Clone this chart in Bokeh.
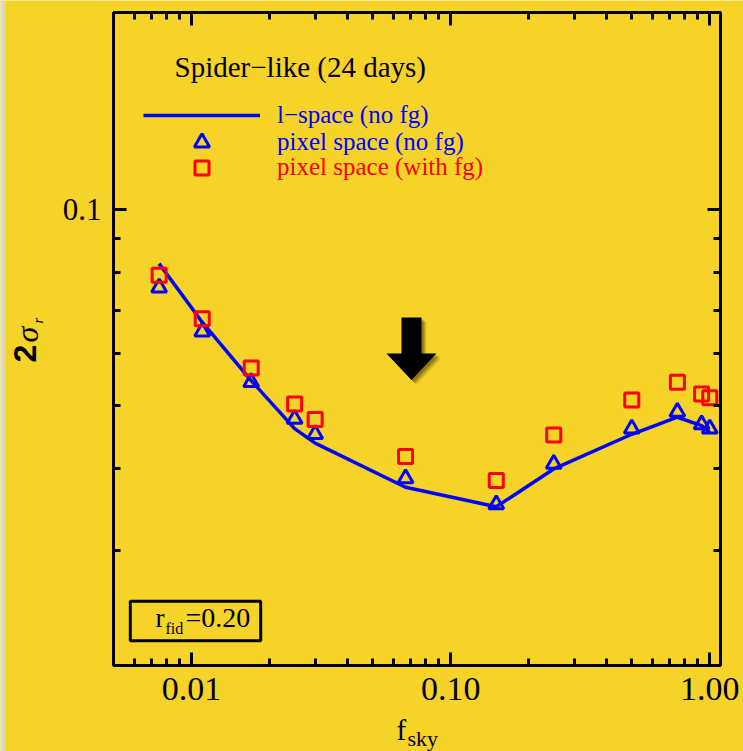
import math
from bokeh.plotting import figure
from bokeh.models import (Range1d, LogAxis, FixedTicker, CustomJSTickFormatter,
                          Label, BoxAnnotation, PolyAnnotation, Legend, LegendItem)
from bokeh.embed import file_html
from bokeh.resources import INLINE

# ---------------- data ----------------
fsky = [0.0075, 0.011, 0.017, 0.025, 0.030, 0.067, 0.15, 0.25, 0.50, 0.75, 0.93, 1.00]
sigma_lspace_nofg = [0.0825, 0.0671, 0.0546, 0.0461, 0.0438, 0.0375, 0.0350, 0.0400,
                     0.0452, 0.0480, 0.0466, 0.0455]
sigma_pixel_nofg = [0.0758, 0.0649, 0.0543, 0.0477, 0.0452, 0.0387, 0.0353, 0.0407,
                    0.0461, 0.0489, 0.0468, 0.0461]
sigma_pixel_fg = [0.0792, 0.0679, 0.0571, 0.0503, 0.0476, 0.0418, 0.0384, 0.0451,
                  0.0510, 0.0543, 0.0521, 0.0514]

x_major_ticks = [0.01, 0.1, 1.0]
x_minor_ticks = [0.006, 0.007, 0.008, 0.009,
                 0.02, 0.03, 0.04, 0.05, 0.06, 0.07, 0.08, 0.09,
                 0.2, 0.3, 0.4, 0.5, 0.6, 0.7, 0.8, 0.9]
y_major_ticks = [0.1]
y_minor_ticks = [0.03, 0.04, 0.05, 0.06, 0.07, 0.08, 0.09]

series_names = ["l\u2212space (no fg)", "pixel space (no fg)", "pixel space (with fg)"]
title_text = "Spider\u2212like (24 days)"

# ---------------- layout ----------------
W, H = 743, 751
FL, FR, FT, FB = 113, 720, 12, 665          # pixel box of the plot area
X0, X1 = 0.005, 1.1                          # axis ranges of the plot box
Y0, Y1 = 0.02, 0.2
BG = "#F5D328"
SERIF = "Liberation Serif"
BASE_K = 0.34                                # baseline correction of Label text


def dx(px):
    return 10 ** (math.log10(X0) + (px - FL) / (FR - FL) * math.log10(X1 / X0))


def dy(py):
    return 10 ** (math.log10(Y0) + (FB - py) / (FB - FT) * math.log10(Y1 / Y0))


# the frame covers the whole canvas; the axes sit at fixed locations on the box
p = figure(width=W, height=H, x_axis_type="log", y_axis_type="log",
           x_axis_location=None, y_axis_location=None,
           x_range=Range1d(dx(0), dx(W)), y_range=Range1d(dy(H), dy(0)),
           output_backend="svg", toolbar_location=None,
           min_border=0, min_border_left=0, min_border_right=0,
           min_border_top=0, min_border_bottom=0,
           background_fill_color=BG, border_fill_color=BG)
p.outline_line_color = None
p.grid.visible = False
p.xgrid.visible = False
p.ygrid.visible = False

xt = FixedTicker(ticks=x_major_ticks, minor_ticks=x_minor_ticks)
yt = FixedTicker(ticks=y_major_ticks, minor_ticks=y_minor_ticks)


def make_axis(ticker, fmt_code, loc, size, standoff):
    ax = LogAxis(ticker=ticker, fixed_location=loc,
                 formatter=CustomJSTickFormatter(code=fmt_code))
    ax.axis_line_color = None
    ax.major_tick_in = 13
    ax.major_tick_out = 0
    ax.minor_tick_in = 7
    ax.minor_tick_out = 0
    ax.major_tick_line_width = 3
    ax.minor_tick_line_width = 3
    ax.major_tick_line_color = "black"
    ax.minor_tick_line_color = "black"
    ax.major_label_text_font = SERIF
    ax.major_label_text_font_size = size
    ax.major_label_text_color = "black"
    ax.major_label_standoff = standoff
    return ax


p.add_layout(make_axis(xt, "return tick.toFixed(2);", Y0, "34px", 12), "below")
p.add_layout(make_axis(xt, "return '';", Y1, "1px", 0), "above")
yax = make_axis(yt, "return tick.toFixed(1);", X0, "31px", 12)
yax.major_label_orientation = "horizontal"
p.add_layout(yax, "left")
p.add_layout(make_axis(yt, "return '';", X1, "1px", 0), "right")

# plot box outline
p.add_layout(BoxAnnotation(left=X0, right=X1, bottom=Y0, top=Y1,
                           fill_color=None, fill_alpha=0, line_color="black",
                           line_alpha=1.0, line_width=3, level="guide"))

# light strip at the left edge of the slide
p.add_layout(BoxAnnotation(left=dx(0), right=dx(3), bottom=dy(H), top=dy(0),
                           fill_color="#dcdcd8", fill_alpha=1.0, line_color=None))
p.add_layout(BoxAnnotation(left=dx(3), right=dx(5), bottom=dy(H), top=dy(0),
                           fill_color="#e9dc8a", fill_alpha=1.0, line_color=None))

# ---------------- data marks ----------------
r_line = p.line(fsky, sigma_lspace_nofg, line_color="blue", line_width=3.5)
r_tri = p.scatter(fsky, sigma_pixel_nofg, marker="triangle", size=15,
                  fill_color=None, line_color="blue", line_width=3)
r_sq = p.scatter(fsky, sigma_pixel_fg, marker="square", size=14,
                 fill_color=None, line_color="red", line_width=3)


# ---------------- legend ----------------
def add_legend(renderer, label, color, center_py, gh):
    lg = Legend(items=[LegendItem(label=label, renderers=[renderer])],
                location=(143, (H - center_py) - gh / 2),
                glyph_width=117, glyph_height=gh, label_height=gh,
                label_standoff=17, padding=0, margin=0, spacing=0,
                background_fill_alpha=0, border_line_color=None,
                label_text_font=SERIF, label_text_font_size="25px",
                label_text_color=color)
    p.add_layout(lg)


add_legend(r_line, series_names[0], "blue", 114.5, 32)
add_legend(r_tri, series_names[1], "blue", 141.5, 38)
add_legend(r_sq, series_names[2], "red", 167.0, 35)


def add_label(text, px, py, size, color="black", font=SERIF, style="normal",
              align="left", rotated=False):
    shift = BASE_K * size
    if rotated:
        px, angle = px - shift, math.pi / 2
    else:
        py, angle = py - shift, 0.0
    p.add_layout(Label(x=dx(px), y=dy(py), text=text, text_font=font,
                       text_font_size=f"{size}px", text_color=color,
                       text_font_style=style, text_align=align,
                       text_baseline="alphabetic", angle=angle))


add_label(title_text, 174, 76, 29)

# r_fid box
p.add_layout(BoxAnnotation(left=dx(129.8), right=dx(260.2), top=dy(600.8), bottom=dy(640.2),
                           fill_color=None, fill_alpha=0, line_color="black",
                           line_alpha=1.0, line_width=3))
add_label("r", 155, 627, 27)
add_label("fid", 165, 633, 16)
add_label("=0.20", 185, 627, 28)

# axis titles
add_label("f", 396, 739, 29)
add_label("sky", 407, 745, 22)
add_label("2", 35, 362, 32, font="Liberation Sans", style="bold", rotated=True)
add_label("\u03c3", 37, 342, 32, style="italic", rotated=True)
add_label("r", 43, 323, 15, style="italic", rotated=True)

# arrow with soft shadow
arrow_px = [(401, 317), (421, 317), (421, 353), (436, 353), (411, 379.5), (386, 353), (401, 353)]
for off, a in [(5, 0.10), (4, 0.15), (3, 0.2), (2, 0.25)]:
    p.add_layout(PolyAnnotation(xs=[dx(x + off) for x, _ in arrow_px],
                                ys=[dy(y + off) for _, y in arrow_px],
                                fill_color="#3a2a00", fill_alpha=a, line_color=None))
p.add_layout(PolyAnnotation(xs=[dx(x) for x, _ in arrow_px], ys=[dy(y) for _, y in arrow_px],
                            fill_color="black", fill_alpha=1.0, line_color=None))

open("out.html", "w").write(file_html(p, INLINE))
